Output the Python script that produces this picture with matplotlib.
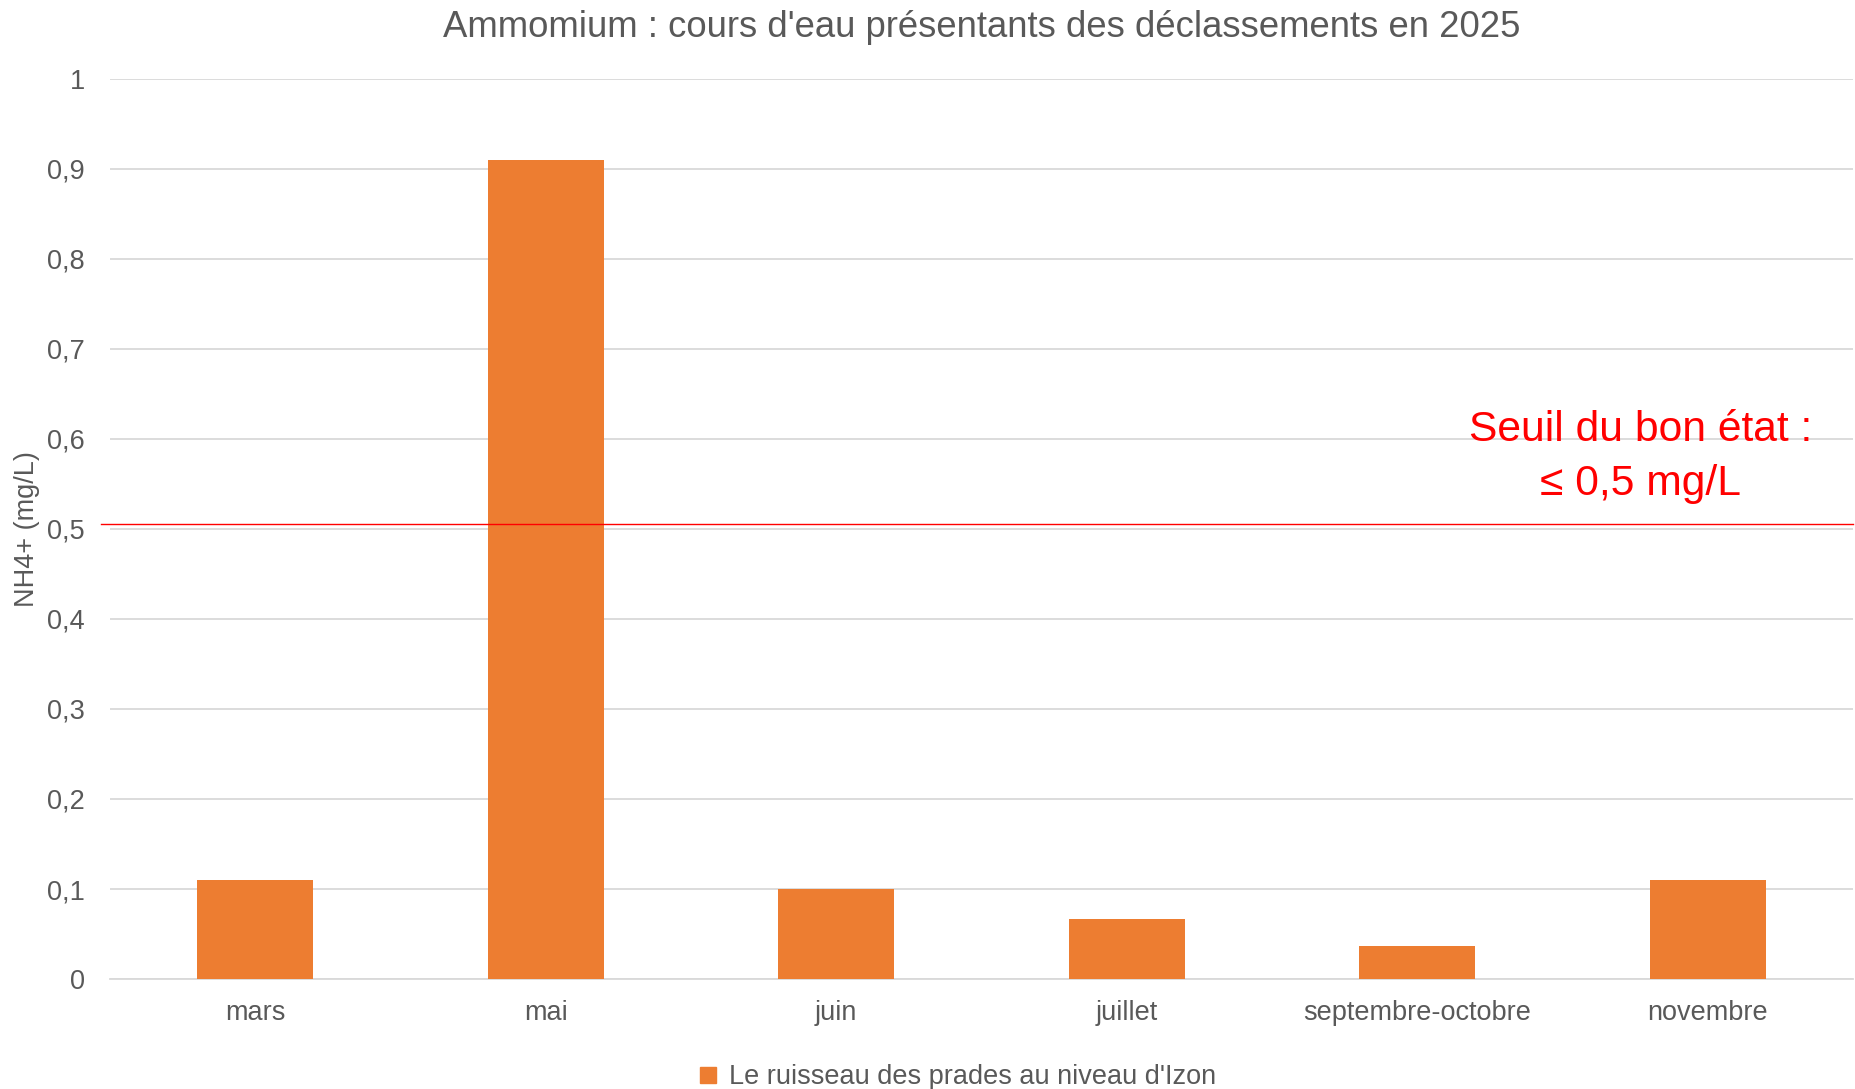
import matplotlib.pyplot as plt
from matplotlib.lines import Line2D
import numpy as np

plt.rcParams['font.family'] = ['Liberation Sans', 'DejaVu Sans']

# data
mois = ["mars", "mai", "juin", "juillet", "septembre-octobre", "novembre"]
nh4 = [0.11, 0.91, 0.10, 0.067, 0.037, 0.11]
serie = "Le ruisseau des prades au niveau d'Izon"
seuil = 0.505
yticks = [0, 0.1, 0.2, 0.3, 0.4, 0.5, 0.6, 0.7, 0.8, 0.9, 1]

gris = "#595959"
orange = "#ED7D31"

fig = plt.figure(figsize=(18.56, 10.89), dpi=100)
ax = fig.add_axes([0.0593, 0.101, 0.939, 0.8265])

x = np.arange(len(mois))
ax.bar(x, nh4, width=0.4, color=orange, zorder=3)
ax.set_xlim(-0.5, len(mois) - 0.5)
ax.set_ylim(0, 1)

ax.set_yticks(yticks)
ax.set_yticklabels([f"{v:g}".replace(".", ",") for v in yticks])
ax.set_xticks(x)
ax.set_xticklabels(mois)
ax.tick_params(axis="both", length=0, labelsize=19.5, labelcolor=gris)
ax.tick_params(axis="y", pad=18)
ax.tick_params(axis="x", pad=15)

ax.grid(axis="y", color="#d9d9d9", linewidth=1.3, zorder=0)
for s in ["top", "right", "left"]:
    ax.spines[s].set_visible(False)
ax.spines["bottom"].set_color("#d9d9d9")
ax.spines["bottom"].set_linewidth(1.3)

ax.set_ylabel("NH4+ (mg/L)", fontsize=19.5, color=gris, labelpad=5)
ax.set_title("Ammomium : cours d'eau présentants des déclassements en 2025",
             fontsize=26.3, color=gris, pad=30)

# seuil
ax.axhline(seuil, xmin=-0.005, xmax=1, color="red", linewidth=1, zorder=4, clip_on=False)
ax.text(4.77, 0.58, "Seuil du bon état :\n≤ 0,5 mg/L", color="red", fontsize=30.7,
        ha="center", va="center", linespacing=1.45)

handle = Line2D([], [], marker="s", linestyle="none", color=orange, markersize=12)
fig.legend([handle], [serie], loc="center", bbox_to_anchor=(0.511, 0.011),
           frameon=False, fontsize=19.5, labelcolor=gris, handletextpad=-0.2)

fig.savefig("out.png", dpi=100)
